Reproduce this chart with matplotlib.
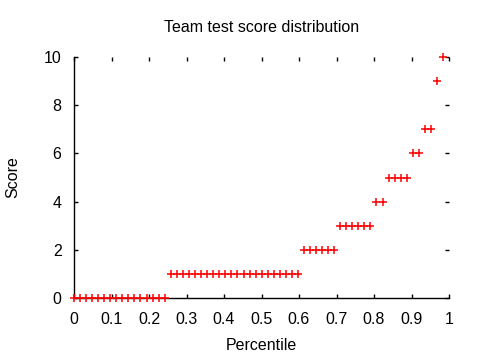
import matplotlib
matplotlib.use("Agg")
import matplotlib.pyplot as plt

# Percentile (rank / count) and score of each team
percentile = [0.000, 0.016, 0.032, 0.048, 0.065, 0.081, 0.097, 0.113, 0.129, 0.145,
              0.161, 0.177, 0.194, 0.210, 0.226, 0.242, 0.258, 0.274, 0.290, 0.306,
              0.323, 0.339, 0.355, 0.371, 0.387, 0.403, 0.419, 0.435, 0.452, 0.468,
              0.484, 0.500, 0.516, 0.532, 0.548, 0.565, 0.581, 0.597, 0.613, 0.629,
              0.645, 0.661, 0.677, 0.694, 0.710, 0.726, 0.742, 0.758, 0.774, 0.790,
              0.806, 0.823, 0.839, 0.855, 0.871, 0.887, 0.903, 0.919, 0.935, 0.952,
              0.968, 0.984]
score = [0]*16 + [1]*22 + [2]*6 + [3]*6 + [4]*2 + [5]*4 + [6]*2 + [7]*2 + [9] + [10]

xticks = [0, 0.1, 0.2, 0.3, 0.4, 0.5, 0.6, 0.7, 0.8, 0.9, 1]
xticklabels = ["0", "0.1", "0.2", "0.3", "0.4", "0.5", "0.6", "0.7", "0.8", "0.9", "1"]
yticks = [0, 2, 4, 6, 8, 10]
yticklabels = ["0", "2", "4", "6", "8", "10"]

plt.rcParams['font.family'] = ['Liberation Sans', 'DejaVu Sans']
FS = 11.5

fig = plt.figure(figsize=(4.8, 3.6), dpi=100)
ax = fig.add_axes([74/480, 1-298/360, (449-74)/480, (298-57)/360])

ax.plot(percentile, score, linestyle='none', marker='+', color='#ff0000',
        markersize=6, markeredgewidth=1.1, clip_on=False, zorder=3)

ax.set_xlim(0, 1)
ax.set_ylim(0, 10)
ax.set_xticks(xticks)
ax.set_xticklabels(xticklabels)
ax.set_yticks(yticks)
ax.set_yticklabels(yticklabels)

for s in ['top', 'right']:
    ax.spines[s].set_visible(False)
for s in ['left', 'bottom']:
    ax.spines[s].set_linewidth(1.0)
    ax.spines[s].set_color('black')

ax.tick_params(axis='both', direction='in', length=3, width=1.0, colors='black',
               labelsize=FS, top=True, right=True)
ax.tick_params(axis='x', pad=10)
ax.tick_params(axis='y', pad=9)

fig.text((74+449)/2/480, 1-345/360, "Percentile", fontsize=FS,
         ha='center', va='center')
fig.text(13/480, 1-177/360, "Score", fontsize=FS, rotation=90,
         ha='center', va='center')
fig.text((74+449)/2/480, 1-27/360, "Team test score distribution",
         fontsize=FS, ha='center', va='center')

fig.savefig("out.png", dpi=100)
